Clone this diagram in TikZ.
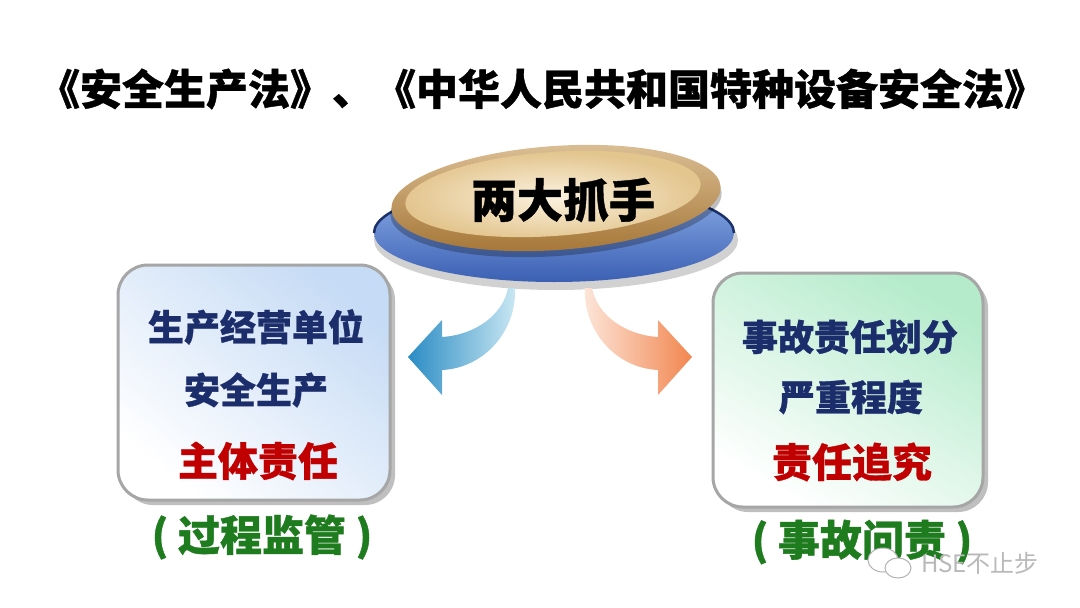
\documentclass[tikz,border=0pt]{standalone}
\usepackage{fontspec}
\newfontfamily\cjk{Noto Sans CJK SC}[BoldFeatures={FakeBold=0.9}]
\usetikzlibrary{shapes.geometric,shadows}
\definecolor{navy}{HTML}{1C2D6B}
\definecolor{dred}{HTML}{C00000}
\definecolor{dgreen}{HTML}{1E7B1E}
\definecolor{bluebox}{HTML}{C6DBF5}
\definecolor{greenbox}{HTML}{B5EBCB}
\definecolor{frame}{HTML}{A6A6A6}
\definecolor{arrowblue}{HTML}{2A8CC4}
\definecolor{arrowbluel}{HTML}{CBE8F3}
\definecolor{arroworange}{HTML}{F2864F}
\definecolor{arroworangel}{HTML}{FCE6DA}
\definecolor{goldrim}{HTML}{C9A063}
\definecolor{goldrimd}{HTML}{A47434}
\definecolor{goldface}{HTML}{FBF2DF}
\definecolor{goldfaced}{HTML}{E3C58E}
\definecolor{discblue}{HTML}{8FB0EA}
\definecolor{discblued}{HTML}{3B60B3}
\definecolor{discedge}{HTML}{1A3169}
\tikzset{
  every node/.style={inner sep=0pt, outer sep=0pt},
  titletxt/.style={font=\cjk\bfseries\fontsize{42}{46}\selectfont, text=black},
  hubtxt/.style={font=\cjk\bfseries\fontsize{46}{50}\selectfont, text=black},
  navytxt/.style={font=\cjk\bfseries\fontsize{36}{40}\selectfont, text=navy},
  redtxt/.style={font=\cjk\bfseries\fontsize{40}{44}\selectfont, text=dred},
  greentxt/.style={font=\cjk\bfseries\fontsize{42}{46}\selectfont, text=dgreen},
  infobox/.style={draw=frame, line width=3pt, rounded corners=30pt,
    drop shadow={shadow xshift=5pt, shadow yshift=-5pt, fill=black, opacity=0.25}},
  wmark/.style={font=\cjk\fontsize{24}{26}\selectfont, text=gray!55},
}
\begin{document}
\begin{tikzpicture}[x=1pt,y=-1pt]
\useasboundingbox (0,0) rectangle (1080,608);
\fill[white] (0,0) rectangle (1080,608);

% title
\node[titletxt] (title) at (542,89) {《安全生产法》、《中华人民共和国特种设备安全法》};

% hub discs
\fill[black, opacity=0.18] (556,240) ellipse [x radius=182, y radius=50];
\shade[top color=discblue, bottom color=discblued] (554,233) ellipse [x radius=180, y radius=49];
\draw[discedge, line width=2.5pt] (374,233) arc[start angle=180, end angle=360, x radius=180, y radius=49];
\fill[black, opacity=0.25, rotate around={4:(556,204)}] (556,204) ellipse [x radius=166, y radius=52];
\shade[top color=goldrim!70!white, bottom color=goldrimd, rotate around={4:(556,198)}] (556,198) ellipse [x radius=165, y radius=52];
\shade[inner color=goldface, outer color=goldfaced, rotate around={4:(553,194)}] (553,194) ellipse [x radius=148, y radius=42];
\node[hubtxt] (hub) at (563,200) {两大抓手};

% curved arrows
\shade[left color=arrowblue, right color=arrowbluel]
  (508,288) .. controls (503,315) and (475,335) .. (442,337)
  -- (442,320) -- (408,357) -- (442,395) -- (442,370)
  .. controls (485,368) and (517,330) .. (515,288) -- cycle;
\shade[left color=arroworangel, right color=arroworange]
  (592,288) .. controls (597,315) and (625,335) .. (658,337)
  -- (658,320) -- (692,357) -- (658,395) -- (658,370)
  .. controls (615,368) and (583,330) .. (585,288) -- cycle;

% left box
\node[infobox, top color=bluebox, bottom color=white, shading angle=-40,
  minimum width=272pt, minimum height=235pt] (lbox) at (254,382.5) {};
\node[navytxt] (l1) at (256,327) {生产经营单位};
\node[navytxt] (l2) at (256,390) {安全生产};
\node[redtxt]  (l3) at (258,461) {主体责任};
\node[greentxt] (lb) at (262,537) {( 过程监管 )};

% right box
\node[infobox, top color=greenbox, bottom color=white, shading angle=-30,
  minimum width=270pt, minimum height=234pt] (rbox) at (848,390) {};
\node[navytxt] (r1) at (850,337) {事故责任划分};
\node[navytxt] (r2) at (851,397) {严重程度};
\node[redtxt]  (r3) at (852,462) {责任追究};
\node[greentxt] (rb) at (862,542) {( 事故问责 )};

% watermark
\draw[gray!60, fill=white, line width=1pt] (883,560) ellipse [x radius=15, y radius=12];
\draw[gray!60, fill=white, line width=1pt] (898,568) ellipse [x radius=13, y radius=10];
\node[wmark] (wm) at (980,563) {HSE不止步};
\end{tikzpicture}
\end{document}
